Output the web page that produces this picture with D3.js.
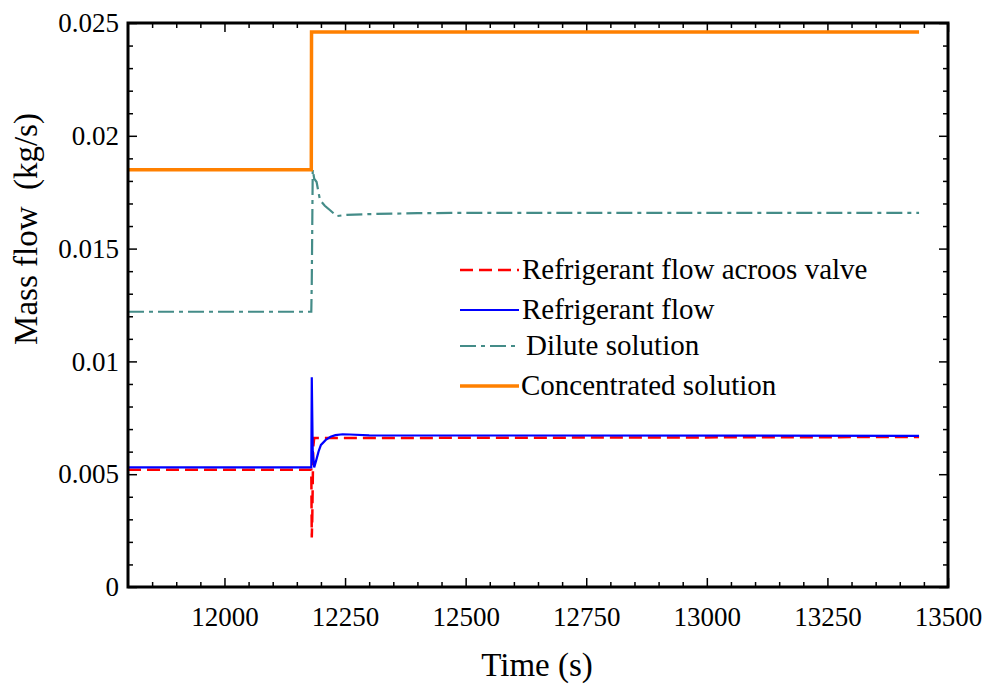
<!DOCTYPE html>
<html>
<head>
<meta charset="utf-8">
<script src="https://cdn.jsdelivr.net/npm/d3@7/dist/d3.min.js"></script>
<style>
  html, body { margin: 0; padding: 0; background: #fff; }
  svg { display: block; }
</style>
</head>
<body>
<svg id="chart" width="989" height="686"></svg>
<script>
// Mass flow transients around the step change at t ≈ 12180 s
const concTime  = [11800, 12180, 12180.5, 13440];
const concFlow  = [0.0185, 0.0185, 0.0246, 0.0246];

const diluteTime = [11800, 12180, 12181, 12183, 12186, 12191, 12198, 12208, 12219, 12233, 12250, 12300, 12400, 12470, 13440];
const diluteFlow = [0.0122, 0.0122, 0.0135, 0.0185, 0.0181, 0.01795, 0.01715, 0.0169, 0.0167, 0.01644, 0.01649, 0.01653, 0.01657, 0.01658, 0.01658];

const refTime = [11800, 12180, 12181, 12183, 12186, 12190, 12195, 12200, 12210, 12220, 12230, 12245, 12260, 12300, 13440];
const refFlow = [0.0053, 0.0053, 0.0093, 0.0060, 0.0053, 0.0056, 0.0060, 0.0063, 0.00652, 0.00666, 0.00673, 0.00677, 0.00676, 0.00672, 0.0067];

const valveTime = [11800, 12180, 12181, 12182, 12184, 12186, 13440];
const valveFlow = [0.0052, 0.0052, 0.0022, 0.0030, 0.0062, 0.0066, 0.00665];

const xMajorTicks = [12000, 12250, 12500, 12750, 13000, 13250, 13500];
const yMajorTicks = [0, 0.005, 0.01, 0.015, 0.02, 0.025];
const yTickLabels = ["0", "0.005", "0.01", "0.015", "0.02", "0.025"];

const seriesNames = ["Refrigerant flow acroos valve", "Refrigerant flow", "Dilute solution", "Concentrated solution"];

const FONT = "Liberation Serif";

const svg = d3.select("#chart");
const plotLeft = 128, plotRight = 948, plotTop = 23, plotBottom = 587;

const x = d3.scaleLinear().domain([11800, 13500]).range([plotLeft, plotRight]);
const y = d3.scaleLinear().domain([0, 0.025]).range([plotBottom, plotTop]);

const xMinor = d3.range(11850, 13500, 50).filter(v => !xMajorTicks.includes(v));
const yMinor = d3.range(1, 25).map(i => i / 1000).filter(v => !yMajorTicks.some(t => Math.abs(t - v) < 1e-9));

function styleAxis(g) {
  g.attr("font-family", FONT).attr("font-size", 27);
  g.select(".domain").remove();
  g.selectAll(".tick line").attr("stroke", "#000").attr("stroke-width", 1.5);
  g.selectAll(".tick text").attr("fill", "#000").attr("font-family", FONT).attr("font-size", 27);
}

// bottom axis: labelled, ticks point inward
svg.append("g").attr("transform", `translate(0,${plotBottom})`)
  .call(d3.axisBottom(x).tickValues(xMajorTicks).tickSize(-9).tickPadding(20).tickFormat(d3.format("d")))
  .call(styleAxis);
svg.append("g").attr("transform", `translate(0,${plotBottom})`)
  .call(d3.axisBottom(x).tickValues(xMinor).tickSize(-5).tickFormat(""))
  .call(styleAxis);
// top axis: ticks only
svg.append("g").attr("transform", `translate(0,${plotTop})`)
  .call(d3.axisTop(x).tickValues(xMajorTicks).tickSize(-9).tickFormat(""))
  .call(styleAxis);
svg.append("g").attr("transform", `translate(0,${plotTop})`)
  .call(d3.axisTop(x).tickValues(xMinor).tickSize(-5).tickFormat(""))
  .call(styleAxis);
// left axis: labelled
svg.append("g").attr("transform", `translate(${plotLeft},0)`)
  .call(d3.axisLeft(y).tickValues(yMajorTicks).tickSize(-9).tickPadding(9)
    .tickFormat((d, i) => yTickLabels[i]))
  .call(styleAxis);
svg.append("g").attr("transform", `translate(${plotLeft},0)`)
  .call(d3.axisLeft(y).tickValues(yMinor).tickSize(-5).tickFormat(""))
  .call(styleAxis);
// right axis: ticks only
svg.append("g").attr("transform", `translate(${plotRight},0)`)
  .call(d3.axisRight(y).tickValues(yMajorTicks).tickSize(-9).tickFormat(""))
  .call(styleAxis);
svg.append("g").attr("transform", `translate(${plotRight},0)`)
  .call(d3.axisRight(y).tickValues(yMinor).tickSize(-5).tickFormat(""))
  .call(styleAxis);

const series = [
  { name: seriesNames[0], t: valveTime,  v: valveFlow,  color: "#ff0000", width: 2.5, dash: "13,6" },
  { name: seriesNames[1], t: refTime,    v: refFlow,    color: "#0000ff", width: 2.2, dash: null },
  { name: seriesNames[2], t: diluteTime, v: diluteFlow, color: "#448c88", width: 2.2, dash: "16,5,4,5" },
  { name: seriesNames[3], t: concTime,   v: concFlow,   color: "#ff8000", width: 3.5, dash: null }
];

const line = d3.line().x(d => x(d[0])).y(d => y(d[1]));

const plot = svg.append("g");
// draw order: dilute, concentrated, then refrigerant lines on top
[2, 3, 0, 1].forEach(i => {
  const s = series[i];
  plot.append("path")
    .datum(s.t.map((t, k) => [t, s.v[k]]))
    .attr("d", line)
    .attr("fill", "none")
    .attr("stroke", s.color)
    .attr("stroke-width", s.width)
    .attr("stroke-dasharray", s.dash)
    .attr("stroke-linejoin", "miter");
});

// frame
svg.append("rect")
  .attr("x", plotLeft).attr("y", plotTop)
  .attr("width", plotRight - plotLeft).attr("height", plotBottom - plotTop)
  .attr("fill", "none").attr("stroke", "#000").attr("stroke-width", 3);

// legend
const legendRows = [270, 310, 346, 386];
const legendTextX = [522, 522, 526, 521];
const legend = svg.append("g");
series.forEach((s, i) => {
  legend.append("line")
    .attr("x1", 460).attr("x2", 519)
    .attr("y1", legendRows[i]).attr("y2", legendRows[i])
    .attr("stroke", s.color).attr("stroke-width", s.width)
    .attr("stroke-dasharray", s.dash);
  legend.append("text")
    .attr("x", legendTextX[i]).attr("y", legendRows[i] + 9)
    .attr("font-family", FONT).attr("font-size", 29).attr("fill", "#000")
    .text(s.name);
});

// axis titles
svg.append("text")
  .attr("x", 537).attr("y", 676)
  .attr("text-anchor", "middle").attr("font-family", FONT).attr("font-size", 33)
  .text("Time (s)");
svg.append("text")
  .attr("transform", "translate(37,229) rotate(-90)")
  .attr("text-anchor", "middle").attr("font-family", FONT).attr("font-size", 33)
  .attr("xml:space", "preserve")
  .style("white-space", "pre")
  .text("Mass flow  (kg/s)");
</script>
</body>
</html>
